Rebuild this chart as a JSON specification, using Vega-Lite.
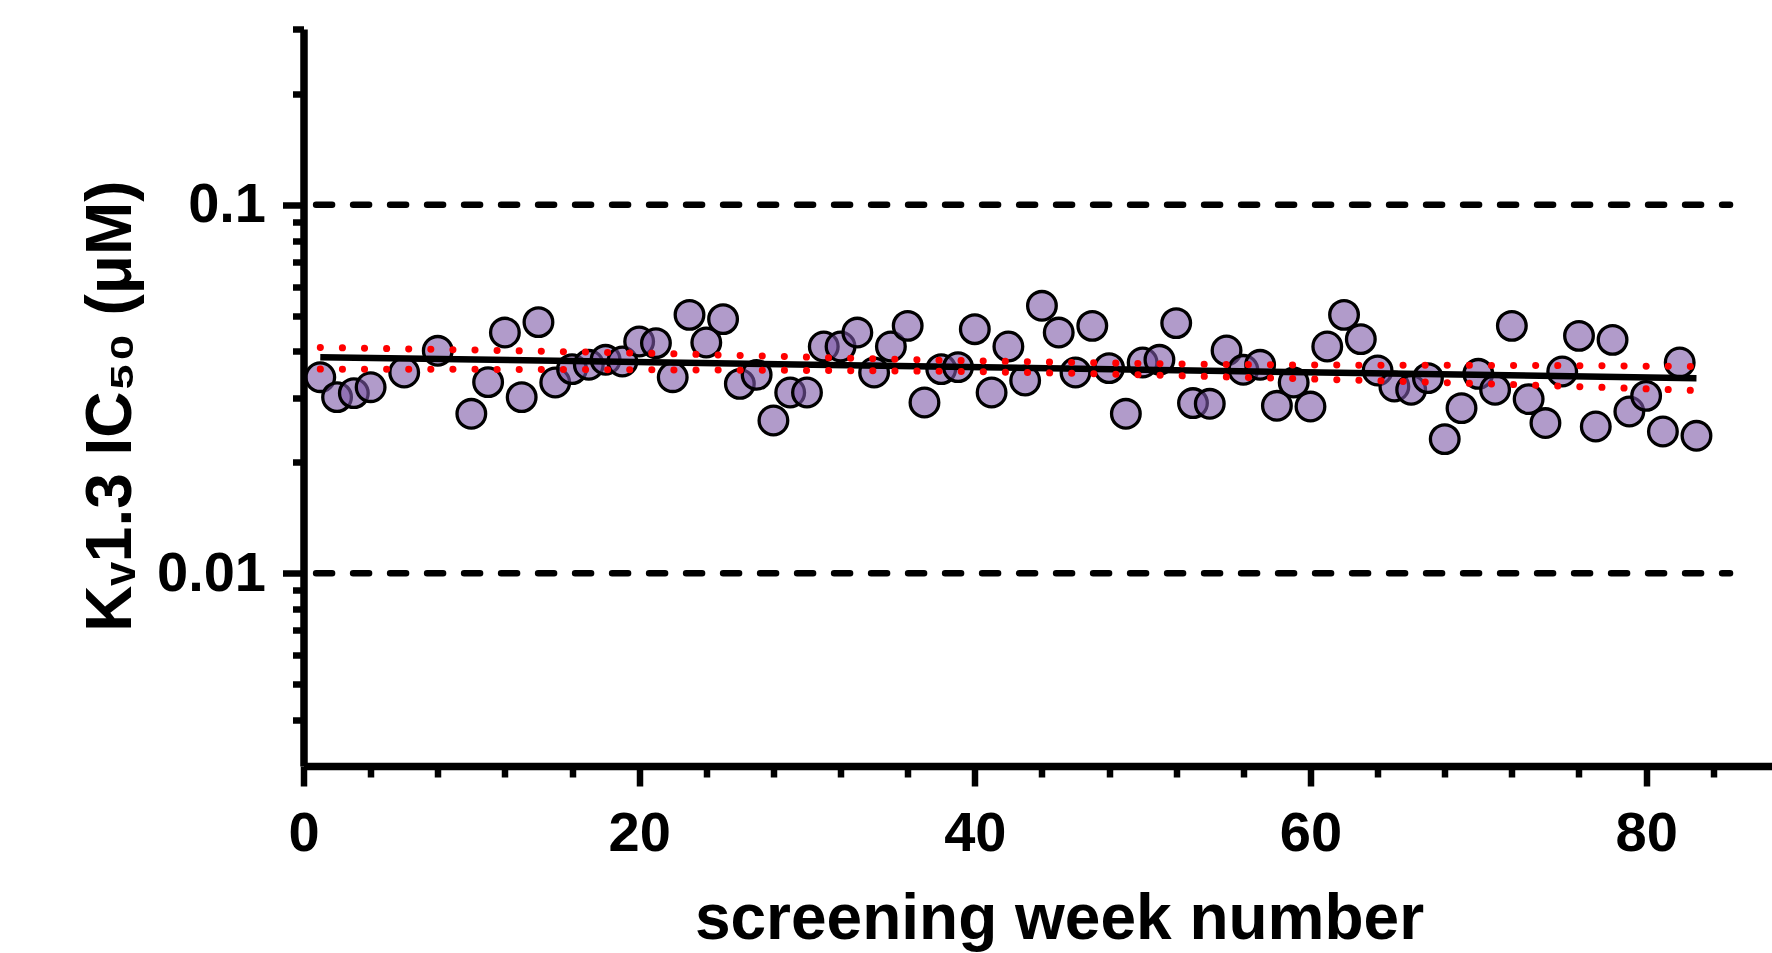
{
  "$schema": "https://vega.github.io/schema/vega-lite/v6.json",
  "width": 1468.5,
  "height": 737,
  "autosize": {"type": "none"},
  "padding": {"left": 303.5, "top": 29, "right": 0, "bottom": 187},
  "background": "white",
  "config": {"view": {"stroke": null}},
  "datasets": {
    "pts": [
      {"week": 1, "ic50": 0.03406}, {"week": 2, "ic50": 0.03007}, {"week": 3, "ic50": 0.03083}, {"week": 4, "ic50": 0.0320},
      {"week": 6, "ic50": 0.03507}, {"week": 8, "ic50": 0.04016}, {"week": 10, "ic50": 0.02709}, {"week": 11, "ic50": 0.03302},
      {"week": 12, "ic50": 0.04501}, {"week": 13, "ic50": 0.03007}, {"week": 14, "ic50": 0.04804}, {"week": 15, "ic50": 0.03294},
      {"week": 16, "ic50": 0.03582}, {"week": 17, "ic50": 0.0368}, {"week": 18, "ic50": 0.03797}, {"week": 19, "ic50": 0.03757},
      {"week": 20, "ic50": 0.04256}, {"week": 21, "ic50": 0.04214}, {"week": 22, "ic50": 0.03406}, {"week": 23, "ic50": 0.05028},
      {"week": 24, "ic50": 0.0423}, {"week": 25, "ic50": 0.04895}, {"week": 26, "ic50": 0.03267}, {"week": 27, "ic50": 0.03456},
      {"week": 28, "ic50": 0.02599}, {"week": 29, "ic50": 0.03095}, {"week": 30, "ic50": 0.03095}, {"week": 31, "ic50": 0.04125},
      {"week": 32, "ic50": 0.04125}, {"week": 33, "ic50": 0.04501}, {"week": 34, "ic50": 0.03507}, {"week": 35, "ic50": 0.04125},
      {"week": 36, "ic50": 0.04694}, {"week": 37, "ic50": 0.02907}, {"week": 38, "ic50": 0.03582}, {"week": 39, "ic50": 0.03627},
      {"week": 40, "ic50": 0.04598}, {"week": 41, "ic50": 0.03095}, {"week": 42, "ic50": 0.04125}, {"week": 43, "ic50": 0.03335},
      {"week": 44, "ic50": 0.0532}, {"week": 45, "ic50": 0.04501}, {"week": 46, "ic50": 0.03507}, {"week": 47, "ic50": 0.04694},
      {"week": 48, "ic50": 0.03605}, {"week": 49, "ic50": 0.02709}, {"week": 50, "ic50": 0.03733}, {"week": 51, "ic50": 0.03797},
      {"week": 52, "ic50": 0.04775}, {"week": 53, "ic50": 0.02897}, {"week": 54, "ic50": 0.02884}, {"week": 55, "ic50": 0.04024},
      {"week": 56, "ic50": 0.03567}, {"week": 57, "ic50": 0.0368}, {"week": 58, "ic50": 0.02848}, {"week": 59, "ic50": 0.03294},
      {"week": 60, "ic50": 0.02835}, {"week": 61, "ic50": 0.04125}, {"week": 62, "ic50": 0.05028}, {"week": 63, "ic50": 0.0432},
      {"week": 64, "ic50": 0.03551}, {"week": 65, "ic50": 0.03212}, {"week": 66, "ic50": 0.03148}, {"week": 67, "ic50": 0.03386},
      {"week": 68, "ic50": 0.02313}, {"week": 69, "ic50": 0.02807}, {"week": 70, "ic50": 0.03478}, {"week": 71, "ic50": 0.03148},
      {"week": 72, "ic50": 0.04694}, {"week": 73, "ic50": 0.0297}, {"week": 74, "ic50": 0.02557}, {"week": 75, "ic50": 0.03529},
      {"week": 76, "ic50": 0.0441}, {"week": 77, "ic50": 0.02503}, {"week": 78, "ic50": 0.04301}, {"week": 79, "ic50": 0.02748},
      {"week": 80, "ic50": 0.03031}, {"week": 81, "ic50": 0.02426}, {"week": 82, "ic50": 0.03733}, {"week": 83, "ic50": 0.02361}
    ],
    "refs": [{"ic50": 0.1}, {"ic50": 0.01}],
    "fit": [{"week": 1, "ic50": 0.0386}, {"week": 83, "ic50": 0.03386}],
    "band": [
      {"week": 1, "upper": 0.041, "lower": 0.03582},
      {"week": 20, "upper": 0.03959, "lower": 0.03567},
      {"week": 39, "upper": 0.0378, "lower": 0.03529},
      {"week": 58, "upper": 0.0368, "lower": 0.03386},
      {"week": 77, "upper": 0.03657, "lower": 0.0320},
      {"week": 83, "upper": 0.03641, "lower": 0.03133}
    ]
  },
  "resolve": {"axis": {"x": "independent", "y": "independent"}},
  "layer": [
    {
      "data": {"name": "refs"},
      "mark": {"type": "rule", "color": "black", "strokeWidth": 6.5, "strokeDash": [16, 21], "strokeCap": "round"},
      "encoding": {
        "y": {"field": "ic50", "type": "quantitative", "scale": {"type": "log", "domain": [0.003, 0.3], "nice": false}, "axis": null},
        "x": {"datum": 0.75, "type": "quantitative", "scale": {"domain": [0, 87.5], "nice": false}, "axis": null},
        "x2": {"datum": 85}
      }
    },
    {
      "data": {"name": "pts"},
      "mark": {"type": "circle", "size": 820, "fill": "#7d58a6", "fillOpacity": 0.6, "stroke": "black", "strokeWidth": 3.3, "opacity": 1},
      "encoding": {
        "x": {
          "field": "week", "type": "quantitative", "scale": {"domain": [0, 87.5], "nice": false},
          "axis": {
            "orient": "bottom", "values": [0, 20, 40, 60, 80], "grid": false,
            "domainColor": "black", "domainWidth": 7.5, "tickColor": "black", "tickWidth": 6.5, "tickSize": 20,
            "labelFont": "Liberation Sans", "labelFontSize": 56, "labelFontWeight": "bold", "labelColor": "black", "labelPadding": 20, "labelFlush": false,
            "title": "screening week number", "titleFont": "Liberation Sans", "titleFontSize": 64, "titleFontWeight": "bold", "titleColor": "black",
            "titleX": 755.5, "titleY": 172, "titleBaseline": "alphabetic", "titleAlign": "center"
          }
        },
        "y": {
          "field": "ic50", "type": "quantitative", "scale": {"type": "log", "domain": [0.003, 0.3], "nice": false},
          "axis": {
            "orient": "left", "values": [0.01, 0.1], "grid": false,
            "labelExpr": "datum.value < 0.05 ? '0.01' : '0.1'",
            "domainColor": "black", "domainWidth": 7.5, "tickColor": "black", "tickWidth": 6.5, "tickSize": 21,
            "labelFont": "Liberation Sans", "labelFontSize": 56, "labelFontWeight": "bold", "labelColor": "black", "labelPadding": 17,
            "title": "Kᵥ1.3 IC₅₀ (μM)", "titleFont": "Liberation Sans", "titleFontSize": 64, "titleFontWeight": "bold", "titleColor": "black",
            "titleX": -173, "titleY": 376.5, "titleBaseline": "alphabetic", "titleAlign": "center", "titleAngle": 270
          }
        }
      }
    },
    {
      "data": {"name": "fit"},
      "mark": {"type": "line", "color": "black", "strokeWidth": 6.5},
      "encoding": {
        "x": {
          "field": "week", "type": "quantitative", "scale": {"domain": [0, 87.5], "nice": false},
          "axis": {"orient": "bottom", "values": [4, 8, 12, 16, 24, 28, 32, 36, 44, 48, 52, 56, 64, 68, 72, 76, 84], "grid": false, "domain": false, "labels": false, "title": null, "tickColor": "black", "tickWidth": 6.5, "tickSize": 11}
        },
        "y": {
          "field": "ic50", "type": "quantitative", "scale": {"type": "log", "domain": [0.003, 0.3], "nice": false},
          "axis": {"orient": "left", "values": [0.004, 0.005, 0.006, 0.007, 0.008, 0.009, 0.02, 0.03, 0.04, 0.05, 0.06, 0.07, 0.08, 0.09, 0.2, 0.3], "grid": false, "domain": false, "labels": false, "title": null, "tickColor": "black", "tickWidth": 6.5, "tickSize": 11}
        }
      }
    },
    {
      "data": {"name": "band"},
      "mark": {"type": "line", "color": "#ff0000", "strokeWidth": 7, "strokeDash": [0.1, 22], "strokeCap": "round", "interpolate": "monotone"},
      "encoding": {
        "x": {"field": "week", "type": "quantitative", "scale": {"domain": [0, 87.5], "nice": false}, "axis": null},
        "y": {"field": "upper", "type": "quantitative", "scale": {"type": "log", "domain": [0.003, 0.3], "nice": false}, "axis": null}
      }
    },
    {
      "data": {"name": "band"},
      "mark": {"type": "line", "color": "#ff0000", "strokeWidth": 7, "strokeDash": [0.1, 22], "strokeCap": "round", "interpolate": "monotone"},
      "encoding": {
        "x": {"field": "week", "type": "quantitative", "scale": {"domain": [0, 87.5], "nice": false}, "axis": null},
        "y": {"field": "lower", "type": "quantitative", "scale": {"type": "log", "domain": [0.003, 0.3], "nice": false}, "axis": null}
      }
    }
  ]
}
